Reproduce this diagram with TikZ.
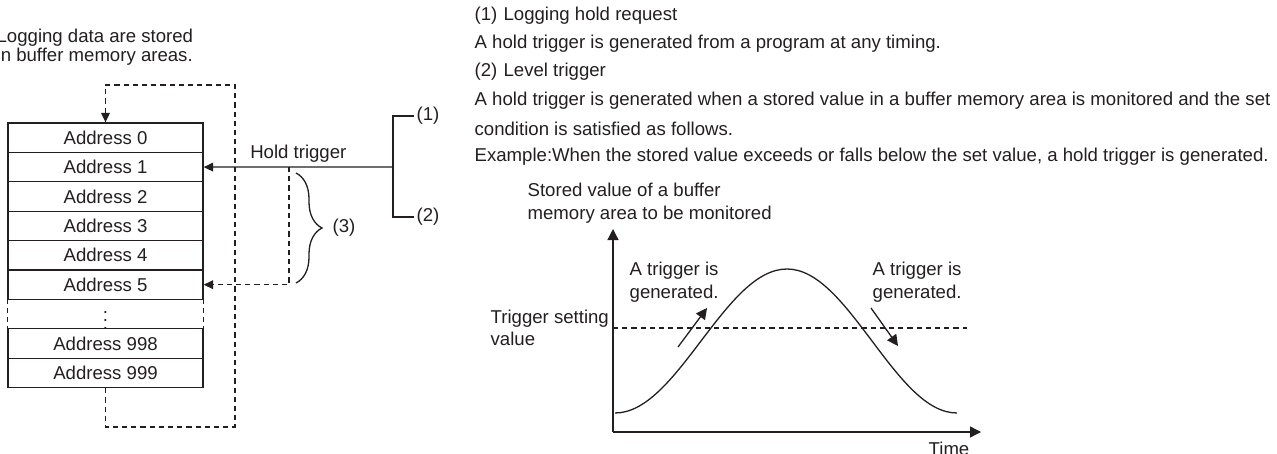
\documentclass[tikz,border=0pt]{standalone}
\usepackage{fontspec}
\setmainfont{Liberation Sans}
\usepackage{tikz}
\usetikzlibrary{arrows.meta,positioning,calc,decorations.pathreplacing}

\definecolor{ink}{RGB}{35,31,32}

\begin{document}
\begin{tikzpicture}[x=0.5pt,y=-0.5pt,line width=0.65pt,color=ink,
    every node/.style={font=\fontsize{9.3}{11.2}\selectfont},
    addr/.style={draw,minimum width=97.5pt,minimum height=14.7pt,inner sep=0pt},
    dash line/.style={dash pattern=on 2.6pt off 2pt},
    small arrow/.style={-{Triangle[length=4.7pt,width=4.3pt]}},
    big arrow/.style={-{Triangle[length=5.5pt,width=5.5pt]}},
    txt/.style={anchor=west,align=left,inner sep=0pt}]
    \useasboundingbox (0,0) rectangle (1277,454);

    % Buffer memory areas
    \node[txt,font=\fontsize{9.3}{9.6}\selectfont] (note) at (-4,47) {Logging data are stored\\in buffer memory areas.};
    \foreach \i/\t in {0/0,1/1,2/2,3/3,4/4,5/5,7/998,8/999}
      \node[addr] (a\t) at (105.5,137.7+29.4*\i) {Address \t};
    \node[minimum width=97.5pt,minimum height=14.7pt,inner sep=0pt] (gap) at (105.5,137.7+29.4*6) {$\vdots$};
    \draw[dash line] (gap.north west) -- (gap.south west) (gap.north east) -- (gap.south east);
    \coordinate (lpb) at (235,427);
    \coordinate (lpt) at (235,85);
    \draw[dash line,small arrow] (a999.south) |- (lpb) -- (lpt) -| (a0.north);

    % Hold trigger sources
    \node[txt] (r1) at (416,116) {(1)};
    \node[txt] (r2) at (416,217) {(2)};
    \coordinate (join) at (393,167);
    \draw (r1.west) ++(-2,0) -| (join) |- ($(r2.west)+(-2,0)$);
    \draw[small arrow] (join) -- (a1.east) node[midway,above,inner sep=2pt] {Hold trigger};
    \coordinate (tap) at (289,167);
    \draw[dash line,small arrow] (tap) |- (a5.east);
    \draw[decorate,decoration={brace,amplitude=13pt}] (296,173) -- (296,283);
    \node[txt] (r3) at (332,228) {(3)};

    % Trigger types
    \node[txt] (t1) at (474,16) {(1)\,\,Logging hold request};
    \node[txt] (t2) at (474,44) {A hold trigger is generated from a program at any timing.};
    \node[txt] (t3) at (474,72) {(2)\,\,Level trigger};
    \node[txt] (t4) at (474,101) {A hold trigger is generated when a stored value in a buffer memory area is monitored and the set};
    \node[txt] (t5) at (474,129) {condition is satisfied as follows.};
    \node[txt] (t6) at (474,157) {Example:When the stored value exceeds or falls below the set value, a hold trigger is generated.};

    % Level trigger graph
    \coordinate (org) at (613,432);
    \coordinate (ytip) at (613,229);
    \coordinate (xtip) at (981,432);
    \draw[big arrow] (org) -- (ytip);
    \draw[big arrow] (org) -- (xtip);
    \draw[dash line] (613,328) -- (967,328);
    \draw (615,413) cos (701,341) sin (787,269) cos (872,341) sin (957,413);
    \node[txt] (ylab) at (527,203) {Stored value of a buffer\\memory area to be monitored};
    \node[txt] (lvl) at (490,328) {Trigger setting\\value};
    \node[txt] (up) at (629,282) {A trigger is\\generated.};
    \node[txt] (down) at (872,282) {A trigger is\\generated.};
    \node[anchor=north,inner sep=0pt] (time) at (949,441) {Time};
    \coordinate (ua) at (678,347);
    \coordinate (ub) at (707,308);
    \draw[big arrow] (ua) -- (ub);
    \coordinate (da) at (871,308);
    \coordinate (db) at (898,346);
    \draw[big arrow] (da) -- (db);
  \end{tikzpicture}
\end{document}
